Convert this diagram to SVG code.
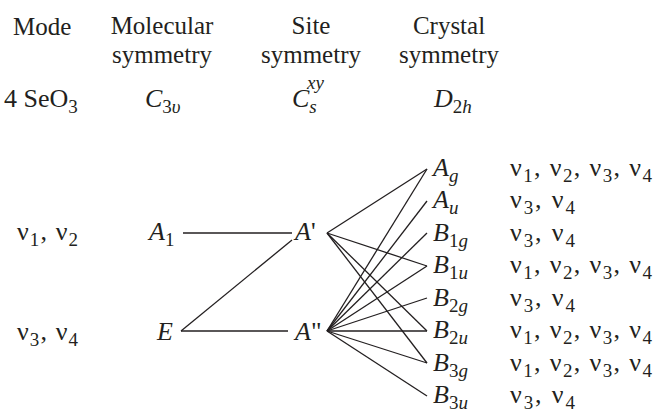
<svg xmlns="http://www.w3.org/2000/svg" width="653" height="414" viewBox="0 0 653 414">
<style>
text{font-family:"Liberation Serif","Times New Roman",serif;font-size:26px;fill:#231f20}
.h{font-size:25px}
.i{font-style:italic}
.s{font-size:19px}
.c line{stroke:#231f20;stroke-width:1.3}
</style>
<rect width="653" height="414" fill="#fff"/>
<g id="headers">
<text class="h" x="13" y="35">Mode</text>
<text class="h" text-anchor="middle"><tspan x="162" y="34">Molecular</tspan><tspan x="162" y="63">symmetry</tspan></text>
<text class="h" text-anchor="middle"><tspan x="311" y="34">Site</tspan><tspan x="311" y="63">symmetry</tspan></text>
<text class="h" text-anchor="middle"><tspan x="449" y="34">Crystal</tspan><tspan x="449" y="63">symmetry</tspan></text>
</g>
<g id="group-row">
<text x="4" y="107">4 SeO<tspan class="s" dy="6">3</tspan></text>
<text x="145" y="107"><tspan class="i">C</tspan><tspan class="s" dy="6">3</tspan><tspan class="s i">υ</tspan></text>
<text x="292" y="107"><tspan class="i">C</tspan><tspan class="s i" dy="6">s</tspan></text>
<text x="307" y="89" class="s i">xy</text>
<text x="434" y="107"><tspan class="i">D</tspan><tspan class="s" dy="6">2</tspan><tspan class="s i">h</tspan></text>
</g>
<g id="mode-v1v2"><text x="17" y="240" textLength="61" lengthAdjust="spacing">ν<tspan class="s" dy="6">1</tspan><tspan dy="-6">, ν</tspan><tspan class="s" dy="6">2</tspan></text></g>
<g id="mode-v3v4"><text x="17" y="340" textLength="61" lengthAdjust="spacing">ν<tspan class="s" dy="6">3</tspan><tspan dy="-6">, ν</tspan><tspan class="s" dy="6">4</tspan></text></g>
<g id="node-A1"><text x="149" y="240" class="i">A<tspan class="s" dy="6" font-style="normal">1</tspan></text></g>
<g id="node-E"><text x="157" y="340" class="i">E</text></g>
<g id="node-Ap"><text x="295" y="240"><tspan class="i">A</tspan>'</text></g>
<g id="node-App"><text x="295" y="340"><tspan class="i">A</tspan>"</text></g>
<g id="node-Ag"><text x="433" y="176"><tspan class="i">A</tspan><tspan class="s i" dy="6">g</tspan></text></g>
<g id="node-Au"><text x="433" y="208"><tspan class="i">A</tspan><tspan class="s i" dy="6">u</tspan></text></g>
<g id="node-B1g"><text x="433" y="241"><tspan class="i">B</tspan><tspan class="s" dy="6">1</tspan><tspan class="s i">g</tspan></text></g>
<g id="node-B1u"><text x="433" y="273"><tspan class="i">B</tspan><tspan class="s" dy="6">1</tspan><tspan class="s i">u</tspan></text></g>
<g id="node-B2g"><text x="433" y="306"><tspan class="i">B</tspan><tspan class="s" dy="6">2</tspan><tspan class="s i">g</tspan></text></g>
<g id="node-B2u"><text x="433" y="338"><tspan class="i">B</tspan><tspan class="s" dy="6">2</tspan><tspan class="s i">u</tspan></text></g>
<g id="node-B3g"><text x="433" y="371"><tspan class="i">B</tspan><tspan class="s" dy="6">3</tspan><tspan class="s i">g</tspan></text></g>
<g id="node-B3u"><text x="433" y="403"><tspan class="i">B</tspan><tspan class="s" dy="6">3</tspan><tspan class="s i">u</tspan></text></g>
<g id="modes-right">
<text x="510" y="176" textLength="142" lengthAdjust="spacing">ν<tspan class="s" dy="6">1</tspan><tspan dy="-6">, ν</tspan><tspan class="s" dy="6">2</tspan><tspan dy="-6">, ν</tspan><tspan class="s" dy="6">3</tspan><tspan dy="-6">, ν</tspan><tspan class="s" dy="6">4</tspan></text>
<text x="510" y="208" textLength="65" lengthAdjust="spacing">ν<tspan class="s" dy="6">3</tspan><tspan dy="-6">, ν</tspan><tspan class="s" dy="6">4</tspan></text>
<text x="510" y="241" textLength="65" lengthAdjust="spacing">ν<tspan class="s" dy="6">3</tspan><tspan dy="-6">, ν</tspan><tspan class="s" dy="6">4</tspan></text>
<text x="510" y="273" textLength="142" lengthAdjust="spacing">ν<tspan class="s" dy="6">1</tspan><tspan dy="-6">, ν</tspan><tspan class="s" dy="6">2</tspan><tspan dy="-6">, ν</tspan><tspan class="s" dy="6">3</tspan><tspan dy="-6">, ν</tspan><tspan class="s" dy="6">4</tspan></text>
<text x="510" y="306" textLength="65" lengthAdjust="spacing">ν<tspan class="s" dy="6">3</tspan><tspan dy="-6">, ν</tspan><tspan class="s" dy="6">4</tspan></text>
<text x="510" y="338" textLength="142" lengthAdjust="spacing">ν<tspan class="s" dy="6">1</tspan><tspan dy="-6">, ν</tspan><tspan class="s" dy="6">2</tspan><tspan dy="-6">, ν</tspan><tspan class="s" dy="6">3</tspan><tspan dy="-6">, ν</tspan><tspan class="s" dy="6">4</tspan></text>
<text x="510" y="371" textLength="142" lengthAdjust="spacing">ν<tspan class="s" dy="6">1</tspan><tspan dy="-6">, ν</tspan><tspan class="s" dy="6">2</tspan><tspan dy="-6">, ν</tspan><tspan class="s" dy="6">3</tspan><tspan dy="-6">, ν</tspan><tspan class="s" dy="6">4</tspan></text>
<text x="510" y="403" textLength="65" lengthAdjust="spacing">ν<tspan class="s" dy="6">3</tspan><tspan dy="-6">, ν</tspan><tspan class="s" dy="6">4</tspan></text>
</g>
<g id="connectors" class="c">
<line x1="183" y1="233" x2="292" y2="233"/>
<line x1="181" y1="331" x2="288" y2="331"/>
<line x1="181" y1="331" x2="292" y2="240"/>
<line x1="327" y1="233" x2="427" y2="169"/>
<line x1="327" y1="233" x2="427" y2="266"/>
<line x1="327" y1="233" x2="427" y2="331"/>
<line x1="327" y1="233" x2="427" y2="363"/>
<line x1="327" y1="331" x2="427" y2="169"/>
<line x1="327" y1="331" x2="427" y2="201"/>
<line x1="327" y1="331" x2="427" y2="233"/>
<line x1="327" y1="331" x2="427" y2="266"/>
<line x1="327" y1="331" x2="427" y2="298"/>
<line x1="327" y1="331" x2="427" y2="331"/>
<line x1="327" y1="331" x2="427" y2="363"/>
<line x1="327" y1="331" x2="427" y2="396"/>
</g>
</svg>
